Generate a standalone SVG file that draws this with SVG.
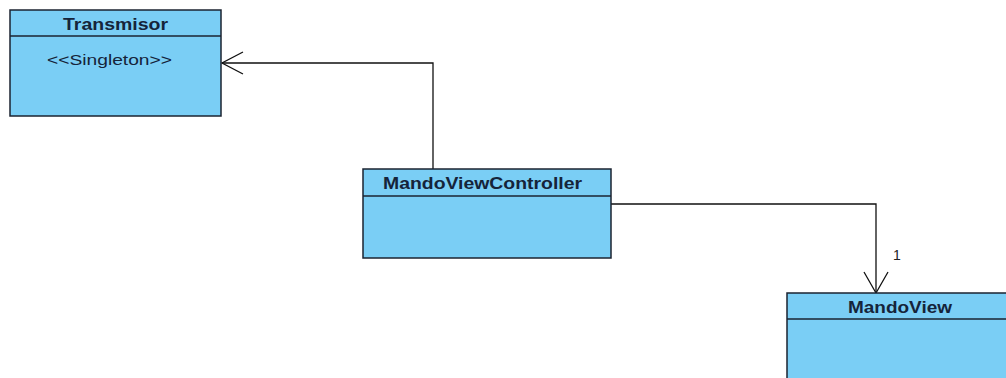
<svg xmlns="http://www.w3.org/2000/svg" width="1006" height="378" viewBox="0 0 1006 378">
<style>
.box{fill:#7acef5;stroke:#1b2330;stroke-width:1.5}
.div{stroke:#1b2330;stroke-width:1.5}
.title{font-family:"Liberation Sans",Arial,sans-serif;font-size:16px;font-weight:bold;fill:#15243a}
.txt{font-family:"Liberation Sans",Arial,sans-serif;font-size:14px;fill:#15243a}
.edge{fill:none;stroke:#111;stroke-width:1.3}
</style>
<rect width="1006" height="378" fill="#fff"/>
<g id="connectors">
<polyline class="edge" points="433,169 433,63 222,63"/>
<polyline class="edge" points="243,52 222,63 243,74"/>
<polyline class="edge" points="611,204 876,204 876,293"/>
<polyline class="edge" points="864,272 876,293 888,272"/>
<text x="893" y="260" style="font-family:'Liberation Sans',Arial,sans-serif;font-size:14px;fill:#222">1</text>
</g>
<g id="Transmisor">
<rect class="box" x="10" y="10" width="211" height="106"/>
<line class="div" x1="10" y1="36" x2="221" y2="36"/>
<text class="title" x="63" y="30" textLength="105" lengthAdjust="spacingAndGlyphs">Transmisor</text>
<text class="txt" x="47" y="65" textLength="125" lengthAdjust="spacingAndGlyphs">&lt;&lt;Singleton&gt;&gt;</text>
</g>
<g id="MandoViewController">
<rect class="box" x="363" y="169" width="248" height="89"/>
<line class="div" x1="363" y1="196" x2="611" y2="196"/>
<text class="title" x="383" y="189" textLength="199" lengthAdjust="spacingAndGlyphs">MandoViewController</text>
</g>
<g id="MandoView">
<rect class="box" x="787" y="293" width="230" height="100"/>
<line class="div" x1="787" y1="319" x2="1006" y2="319"/>
<text class="title" x="848" y="313" textLength="104" lengthAdjust="spacingAndGlyphs">MandoView</text>
</g>
</svg>
